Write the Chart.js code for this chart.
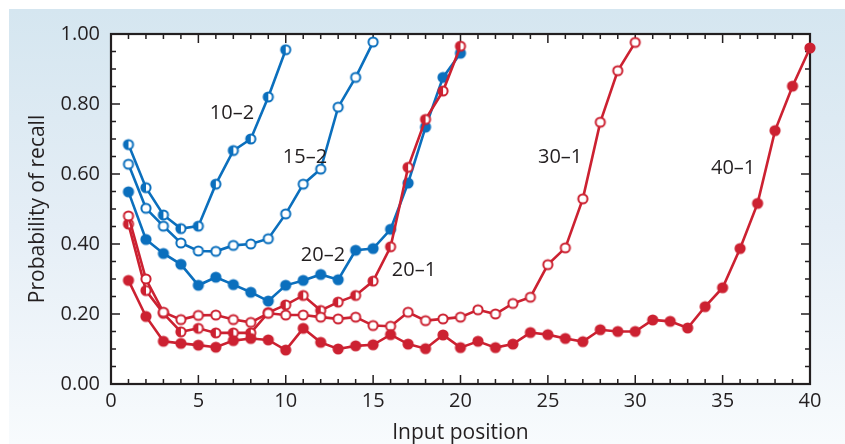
<!DOCTYPE html>
<html>
<head>
<meta charset="utf-8">
<script src="https://cdn.jsdelivr.net/npm/chart.js@4/dist/chart.umd.min.js"></script>
<style>
  html, body { margin: 0; padding: 0; background: #ffffff; }
  #wrap { width: 845px; height: 444px; position: relative; }
</style>
</head>
<body>
<div id="wrap"><canvas id="recall" width="845" height="444"></canvas></div>
<script>
// Serial position curves: probability of recall by input position for six list conditions
const inputPositions = [1, 2, 3, 4, 5, 6, 7, 8, 9, 10, 11, 12, 13, 14, 15, 16, 17, 18, 19, 20,
  21, 22, 23, 24, 25, 26, 27, 28, 29, 30, 31, 32, 33, 34, 35, 36, 37, 38, 39, 40];

const recall10_2 = [0.684, 0.561, 0.483, 0.444, 0.451, 0.571, 0.667, 0.700, 0.820, 0.955];
const recall15_2 = [0.628, 0.502, 0.451, 0.403, 0.380, 0.379, 0.396, 0.400, 0.415, 0.486,
  0.571, 0.614, 0.791, 0.876, 0.977];
const recall20_2 = [0.549, 0.413, 0.373, 0.342, 0.282, 0.305, 0.284, 0.262, 0.237, 0.282,
  0.296, 0.313, 0.298, 0.382, 0.387, 0.442, 0.574, 0.734, 0.876, 0.945];
const recall20_1 = [0.457, 0.267, 0.202, 0.149, 0.159, 0.146, 0.146, 0.146, 0.204, 0.226,
  0.253, 0.210, 0.234, 0.253, 0.294, 0.392, 0.619, 0.756, 0.837, 0.965];
const recall30_1 = [0.480, 0.300, 0.205, 0.184, 0.196, 0.197, 0.184, 0.176, 0.202, 0.197,
  0.197, 0.191, 0.186, 0.191, 0.167, 0.165, 0.205, 0.181, 0.186, 0.191,
  0.212, 0.200, 0.230, 0.248, 0.341, 0.389, 0.529, 0.748, 0.895, 0.976];
const recall40_1 = [0.296, 0.193, 0.122, 0.116, 0.111, 0.105, 0.124, 0.130, 0.126, 0.097,
  0.159, 0.119, 0.100, 0.109, 0.112, 0.141, 0.114, 0.101, 0.140, 0.104,
  0.122, 0.104, 0.114, 0.147, 0.141, 0.130, 0.121, 0.155, 0.150, 0.150,
  0.183, 0.179, 0.160, 0.221, 0.275, 0.387, 0.516, 0.724, 0.851, 0.960];

const seriesNames = ['10–2', '15–2', '20–2', '20–1', '30–1', '40–1'];
const xTickValues = [0, 5, 10, 15, 20, 25, 30, 35, 40];
const yTickValues = [0, 0.2, 0.4, 0.6, 0.8, 1.0];

// where each curve's name is written, in axis units
const nameSpots = [
  { text: seriesNames[0], x: 6.92, y: 0.774 },
  { text: seriesNames[1], x: 11.1, y: 0.649 },
  { text: seriesNames[2], x: 12.13, y: 0.369 },
  { text: seriesNames[3], x: 17.34, y: 0.326 },
  { text: seriesNames[4], x: 25.7, y: 0.649 },
  { text: seriesNames[5], x: 35.6, y: 0.617 }
];

const BLUE = '#0b6fbd';
const RED = '#cc2131';
const INK = '#231f20';
const FONT = '"Open Sans", "Noto Sans", sans-serif';

// small canvas markers: filled, open and half-filled circles
function makeMarker(color, kind) {
  const c = document.createElement('canvas');
  c.width = 14; c.height = 14;
  const g = c.getContext('2d');
  const cx = 7, cy = 7;
  if (kind === 'filled') {
    g.beginPath(); g.arc(cx, cy, 5.6, 0, Math.PI * 2);
    g.fillStyle = color; g.fill();
  } else {
    g.beginPath(); g.arc(cx, cy, 4.6, 0, Math.PI * 2);
    g.fillStyle = '#ffffff'; g.fill();
    if (kind === 'half') {
      g.beginPath(); g.arc(cx, cy, 4.6, Math.PI / 2, Math.PI * 1.5);
      g.closePath(); g.fillStyle = color; g.fill();
    }
    g.beginPath(); g.arc(cx, cy, 4.6, 0, Math.PI * 2);
    g.lineWidth = 2; g.strokeStyle = color; g.stroke();
  }
  return c;
}

function toPoints(values) {
  return values.map((v, i) => ({ x: inputPositions[i], y: v }));
}

function series(label, values, color, kind) {
  return {
    label: label,
    data: toPoints(values),
    borderColor: color,
    backgroundColor: color,
    borderWidth: 2.6,
    pointStyle: makeMarker(color, kind),
    pointRadius: 5,
    pointHoverRadius: 5,
    showLine: true,
    tension: 0,
    clip: false
  };
}

// page background, white plot field, frame with inward ticks, curve names
const decor = {
  id: 'decor',
  beforeDraw(chart) {
    const ctx = chart.ctx;
    const a = chart.chartArea;
    ctx.save();
    const grad = ctx.createLinearGradient(0, 9, 0, 444);
    grad.addColorStop(0, '#d5e6f0');
    grad.addColorStop(0.5, '#e5eef6');
    grad.addColorStop(1, '#f8fbfd');
    ctx.fillStyle = grad;
    ctx.fillRect(9, 9, chart.width - 9, chart.height - 9);
    ctx.fillStyle = '#ffffff';
    ctx.fillRect(a.left, a.top, a.right - a.left, a.bottom - a.top);
    ctx.restore();
  },
  beforeDatasetsDraw(chart) {
    const ctx = chart.ctx;
    const a = chart.chartArea;
    const xs = chart.scales.x, ys = chart.scales.y;
    ctx.save();
    ctx.strokeStyle = INK;
    ctx.lineWidth = 1.5;
    ctx.beginPath();
    for (let i = 0; i <= 40; i++) {
      const px = xs.getPixelForValue(i);
      const len = i % 5 === 0 ? 9 : 5;
      ctx.moveTo(px, a.bottom); ctx.lineTo(px, a.bottom - len);
      ctx.moveTo(px, a.top); ctx.lineTo(px, a.top + len);
    }
    for (let j = 0; j <= 20; j++) {
      const py = ys.getPixelForValue(j * 0.05);
      const len = j % 4 === 0 ? 9 : 5;
      ctx.moveTo(a.left, py); ctx.lineTo(a.left + len, py);
      ctx.moveTo(a.right, py); ctx.lineTo(a.right - len, py);
    }
    ctx.stroke();
    ctx.lineWidth = 2.2;
    ctx.strokeRect(a.left, a.top, a.right - a.left, a.bottom - a.top);
    ctx.restore();
  },
  afterDatasetsDraw(chart) {
    const ctx = chart.ctx;
    const xs = chart.scales.x, ys = chart.scales.y;
    ctx.save();
    ctx.fillStyle = INK;
    ctx.font = '20px ' + FONT;
    ctx.textAlign = 'center';
    ctx.textBaseline = 'middle';
    nameSpots.forEach(s => {
      ctx.fillText(s.text, xs.getPixelForValue(s.x), ys.getPixelForValue(s.y));
    });
    ctx.restore();
  }
};

new Chart(document.getElementById('recall'), {
  type: 'scatter',
  data: {
    datasets: [
      series(seriesNames[5], recall40_1, RED, 'filled'),
      series(seriesNames[4], recall30_1, RED, 'open'),
      series(seriesNames[3], recall20_1, RED, 'half'),
      series(seriesNames[2], recall20_2, BLUE, 'filled'),
      series(seriesNames[1], recall15_2, BLUE, 'open'),
      series(seriesNames[0], recall10_2, BLUE, 'half')
    ]
  },
  options: {
    responsive: false,
    animation: false,
    devicePixelRatio: 1,
    layout: { padding: { left: 0, right: 35, top: 34, bottom: 0 } },
    plugins: { legend: { display: false }, tooltip: { enabled: false } },
    scales: {
      x: {
        type: 'linear',
        min: 0, max: 40,
        afterFit(scale) { scale.height = 60; },
        afterBuildTicks(scale) { scale.ticks = xTickValues.map(v => ({ value: v })); },
        grid: { display: false, drawTicks: false },
        border: { display: false },
        ticks: {
          color: INK, font: { family: FONT, size: 20 }, padding: 5,
          maxRotation: 0, autoSkip: false,
          callback: v => String(v)
        },
        title: {
          display: true, text: 'Input position', color: INK,
          font: { family: FONT, size: 21, lineHeight: 1 }, padding: { top: 0, bottom: 0 }
        }
      },
      y: {
        type: 'linear',
        min: 0, max: 1,
        afterFit(scale) { scale.width = 111; },
        afterBuildTicks(scale) { scale.ticks = yTickValues.map(v => ({ value: v })); },
        grid: { display: false, drawTicks: false },
        border: { display: false },
        ticks: {
          color: INK, font: { family: FONT, size: 20 }, padding: 11,
          autoSkip: false,
          callback: v => Number(v).toFixed(2)
        },
        title: {
          display: true, text: 'Probability of recall', color: INK,
          font: { family: FONT, size: 21, lineHeight: 1.2 }, padding: { top: 25, bottom: 0 }
        }
      }
    }
  },
  plugins: [decor]
});
</script>
</body>
</html>
